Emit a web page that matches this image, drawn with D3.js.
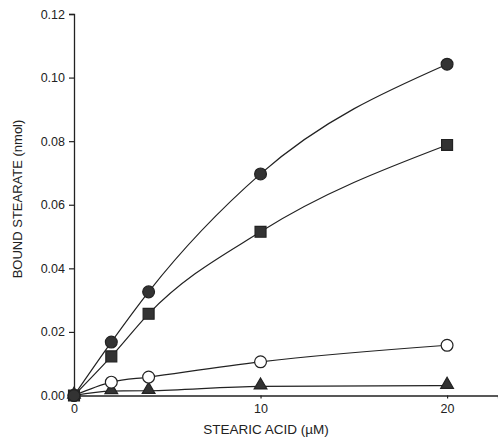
<!DOCTYPE html>
<html>
<head>
<meta charset="utf-8">
<script src="https://cdn.jsdelivr.net/npm/d3@7"></script>
<style>
  body { margin: 0; background: #fff; }
  svg text { font-family: "Liberation Sans", Arial, sans-serif; fill: #222; }
</style>
</head>
<body>
<div id="chart"></div>
<script>
var concentrations = [0, 2, 4, 10, 20]; // stearic acid (uM)
var filledCircles = [0, 0.0168, 0.0326, 0.0697, 0.1042];
var filledSquares = [0, 0.0123, 0.0257, 0.0515, 0.0788];
var openCircles = [0, 0.0042, 0.0058, 0.0106, 0.0158];
var filledTriangles = [0, 0.0014, 0.0015, 0.0029, 0.0031];
var yTicks = [0, 0.02, 0.04, 0.06, 0.08, 0.10, 0.12];
var xTicks = [0, 10, 20];

var WIDTH = 498, HEIGHT = 439;
var INK = "#222";

var svg = d3.select("#chart").append("svg")
    .attr("width", WIDTH)
    .attr("height", HEIGHT);

var x = d3.scaleLinear().domain([0, 22.73]).range([74, 498]);
var y = d3.scaleLinear().domain([0, 0.12]).range([395.5, 14]);

//axes
var yAxis = svg.append("g")
    .attr("transform", "translate(" + x(0) + ",0)")
    .call(d3.axisLeft(y).tickValues(yTicks).tickFormat(d3.format(".2f")).tickSize(5).tickPadding(4));
var xAxis = svg.append("g")
    .attr("transform", "translate(0," + y(0) + ")")
    .call(d3.axisBottom(x).tickValues(xTicks).tickFormat(d3.format("d")).tickSize(3).tickPadding(6));

[yAxis, xAxis].forEach(function(ax) {
  ax.select(".domain").attr("stroke", INK).attr("stroke-width", 1.3);
  ax.selectAll(".tick line").attr("stroke", INK).attr("stroke-width", 1.2);
  ax.selectAll(".tick text").style("font-size", "12.5px").attr("fill", INK);
});

//axis titles
svg.append("text")
    .attr("transform", "translate(22,199) rotate(-90)")
    .attr("text-anchor", "middle")
    .style("font-size", "13px")
    .text("BOUND STEARATE  (nmol)");

svg.append("text")
    .attr("x", 266)
    .attr("y", 434)
    .attr("text-anchor", "middle")
    .style("font-size", "13.5px")
    .text("STEARIC ACID (\u00b5M)");

var series = [
  {values: filledTriangles, shape: d3.symbolTriangle, size: 70, fill: "#333"},
  {values: openCircles, shape: d3.symbolCircle, size: 110, fill: "#fff"},
  {values: filledSquares, shape: d3.symbolSquare, size: 120, fill: "#333"},
  {values: filledCircles, shape: d3.symbolCircle, size: 110, fill: "#333"}
];

var line = d3.line()
    .x(function(d) { return x(d[0]); })
    .y(function(d) { return y(d[1]); })
    .curve(d3.curveMonotoneX);

series.forEach(function(s) {
  var pts = concentrations.map(function(c, i) { return [c, s.values[i]]; });
  svg.append("path")
      .datum(pts)
      .attr("d", line)
      .attr("fill", "none")
      .attr("stroke", INK)
      .attr("stroke-width", 1.2);
  svg.selectAll(null)
      .data(pts)
      .enter()
      .append("path")
      .attr("transform", function(d) {
        var dy = s.shape === d3.symbolTriangle ? -1 : 0;
        return "translate(" + x(d[0]) + "," + (y(d[1]) + dy) + ")";
      })
      .attr("d", d3.symbol().type(s.shape).size(s.size))
      .attr("fill", s.fill)
      .attr("stroke", INK)
      .attr("stroke-width", 1.2);
});
</script>
</body>
</html>
